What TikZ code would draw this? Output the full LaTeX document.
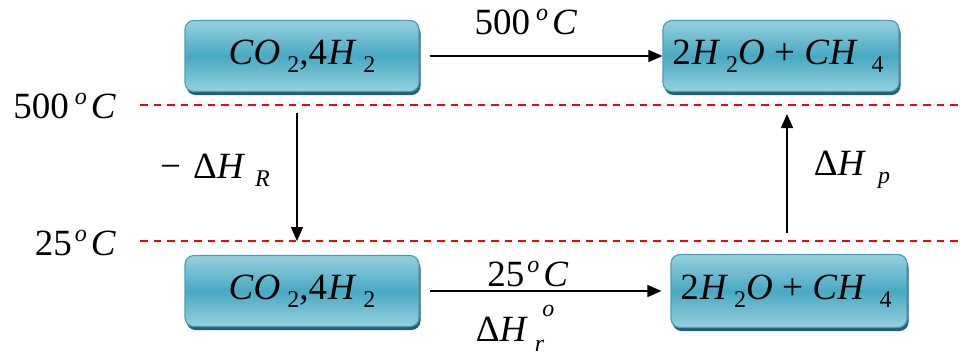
\documentclass[tikz,border=0pt]{standalone}
\usepackage{fontspec}
\setmainfont{Liberation Serif}
\usetikzlibrary{arrows.meta,shadows}
\definecolor{boxlight}{HTML}{97D0DF}
\definecolor{boxmid}{HTML}{48A9C2}
\definecolor{boxedge}{HTML}{4A9FB8}
\definecolor{boxshadow}{HTML}{22606F}
\definecolor{dashred}{HTML}{FF0000}
\newcommand\lowsub[1]{\raisebox{-0.45ex}{\fontsize{24}{24}\selectfont\upshape #1}}
\newcommand\highsup[1]{\raisebox{0.85ex}{\fontsize{24}{24}\selectfont\itshape #1}}
\newcommand\itl[1]{\textit{#1}}
\begin{document}
\begin{tikzpicture}[x=1pt,y=-1pt,
  every node/.style={font=\fontsize{37}{40}\selectfont, inner sep=0pt},
  chembox/.style={rounded corners=9pt, draw=boxedge, line width=1.2pt,
    top color=boxlight, bottom color=boxlight, middle color=boxmid,
    minimum width=234pt, minimum height=71pt,
    drop shadow={shadow xshift=1.5pt, shadow yshift=-3.5pt, fill=boxshadow, opacity=1}},
  flow/.style={line width=1.5pt, -{Triangle[length=14pt,width=12pt]}},
  level/.style={dashred, line width=2pt, dash pattern=on 7.5pt off 6pt}
]
\useasboundingbox (0,0) rectangle (960,356);
% boxes
\node[chembox] (r500) at (302,56) {\itl{C}\itl{O}\hspace{7pt}\lowsub{2},4\hspace{1pt}\itl{H}\hspace{7pt}\lowsub{2}};
\node[chembox, minimum width=236pt] (p500) at (781,56) {\hspace{-6pt}2\hspace{1pt}\itl{H}\hspace{6pt}\lowsub{2}\itl{O} + \itl{C}\itl{H}\hspace{14pt}\lowsub{4}};
\node[chembox] (r25) at (302,291) {\itl{C}\itl{O}\hspace{7pt}\lowsub{2},4\hspace{1pt}\itl{H}\hspace{7pt}\lowsub{2}};
\node[chembox, minimum width=236pt, minimum height=73pt] (p25) at (789,291) {\hspace{-6pt}2\hspace{1pt}\itl{H}\hspace{6pt}\lowsub{2}\itl{O} + \itl{C}\itl{H}\hspace{14pt}\lowsub{4}};
% level lines
\coordinate (l500a) at (140,105);
\coordinate (l500b) at (960,105);
\coordinate (l25a) at (140,241);
\coordinate (l25b) at (960,241);
\draw[level] (l500a) -- (l500b);
\draw[level] (l25a) -- (l25b);
\node[anchor=east] (t500) at (116,106) {500\hspace{6pt}\highsup{o}\hspace{4pt}\itl{C}};
\node[anchor=east] (t25) at (116,243) {25\hspace{3pt}\highsup{o}\hspace{4pt}\itl{C}};
% horizontal arrows
\draw[flow, shorten <=10pt] (r500.east) -- (p500.west);
\node (a500) at (526,22) {500\hspace{6pt}\highsup{o}\hspace{4pt}\itl{C}};
\draw[flow, shorten <=10pt, shorten >=9pt] (r25.east) -- (p25.west);
\node (a25) at (528,274) {25\hspace{3pt}\highsup{o}\hspace{4pt}\itl{C}};
\node (dhr) at (515,328) {Δ\itl{H}\hspace{7pt}\raisebox{-0.55ex}{\fontsize{24}{24}\selectfont\itshape r}\hspace{-2pt}\raisebox{1.5ex}{\fontsize{24}{24}\selectfont\itshape o}};
% vertical arrows
\coordinate (dtop) at (297,113);
\coordinate (dbot) at (297,241);
\draw[flow] (dtop) -- (dbot);
\node (dhR) at (215,170) {−\hspace{12pt}Δ\itl{H}\hspace{10pt}\lowsub{\itshape R}};
\coordinate (ubot) at (787,233);
\coordinate (utop) at (787,114);
\draw[flow] (ubot) -- (utop);
\node (dhp) at (852,170) {Δ\itl{H}\hspace{12pt}\lowsub{\itshape p}};
\end{tikzpicture}
\end{document}
